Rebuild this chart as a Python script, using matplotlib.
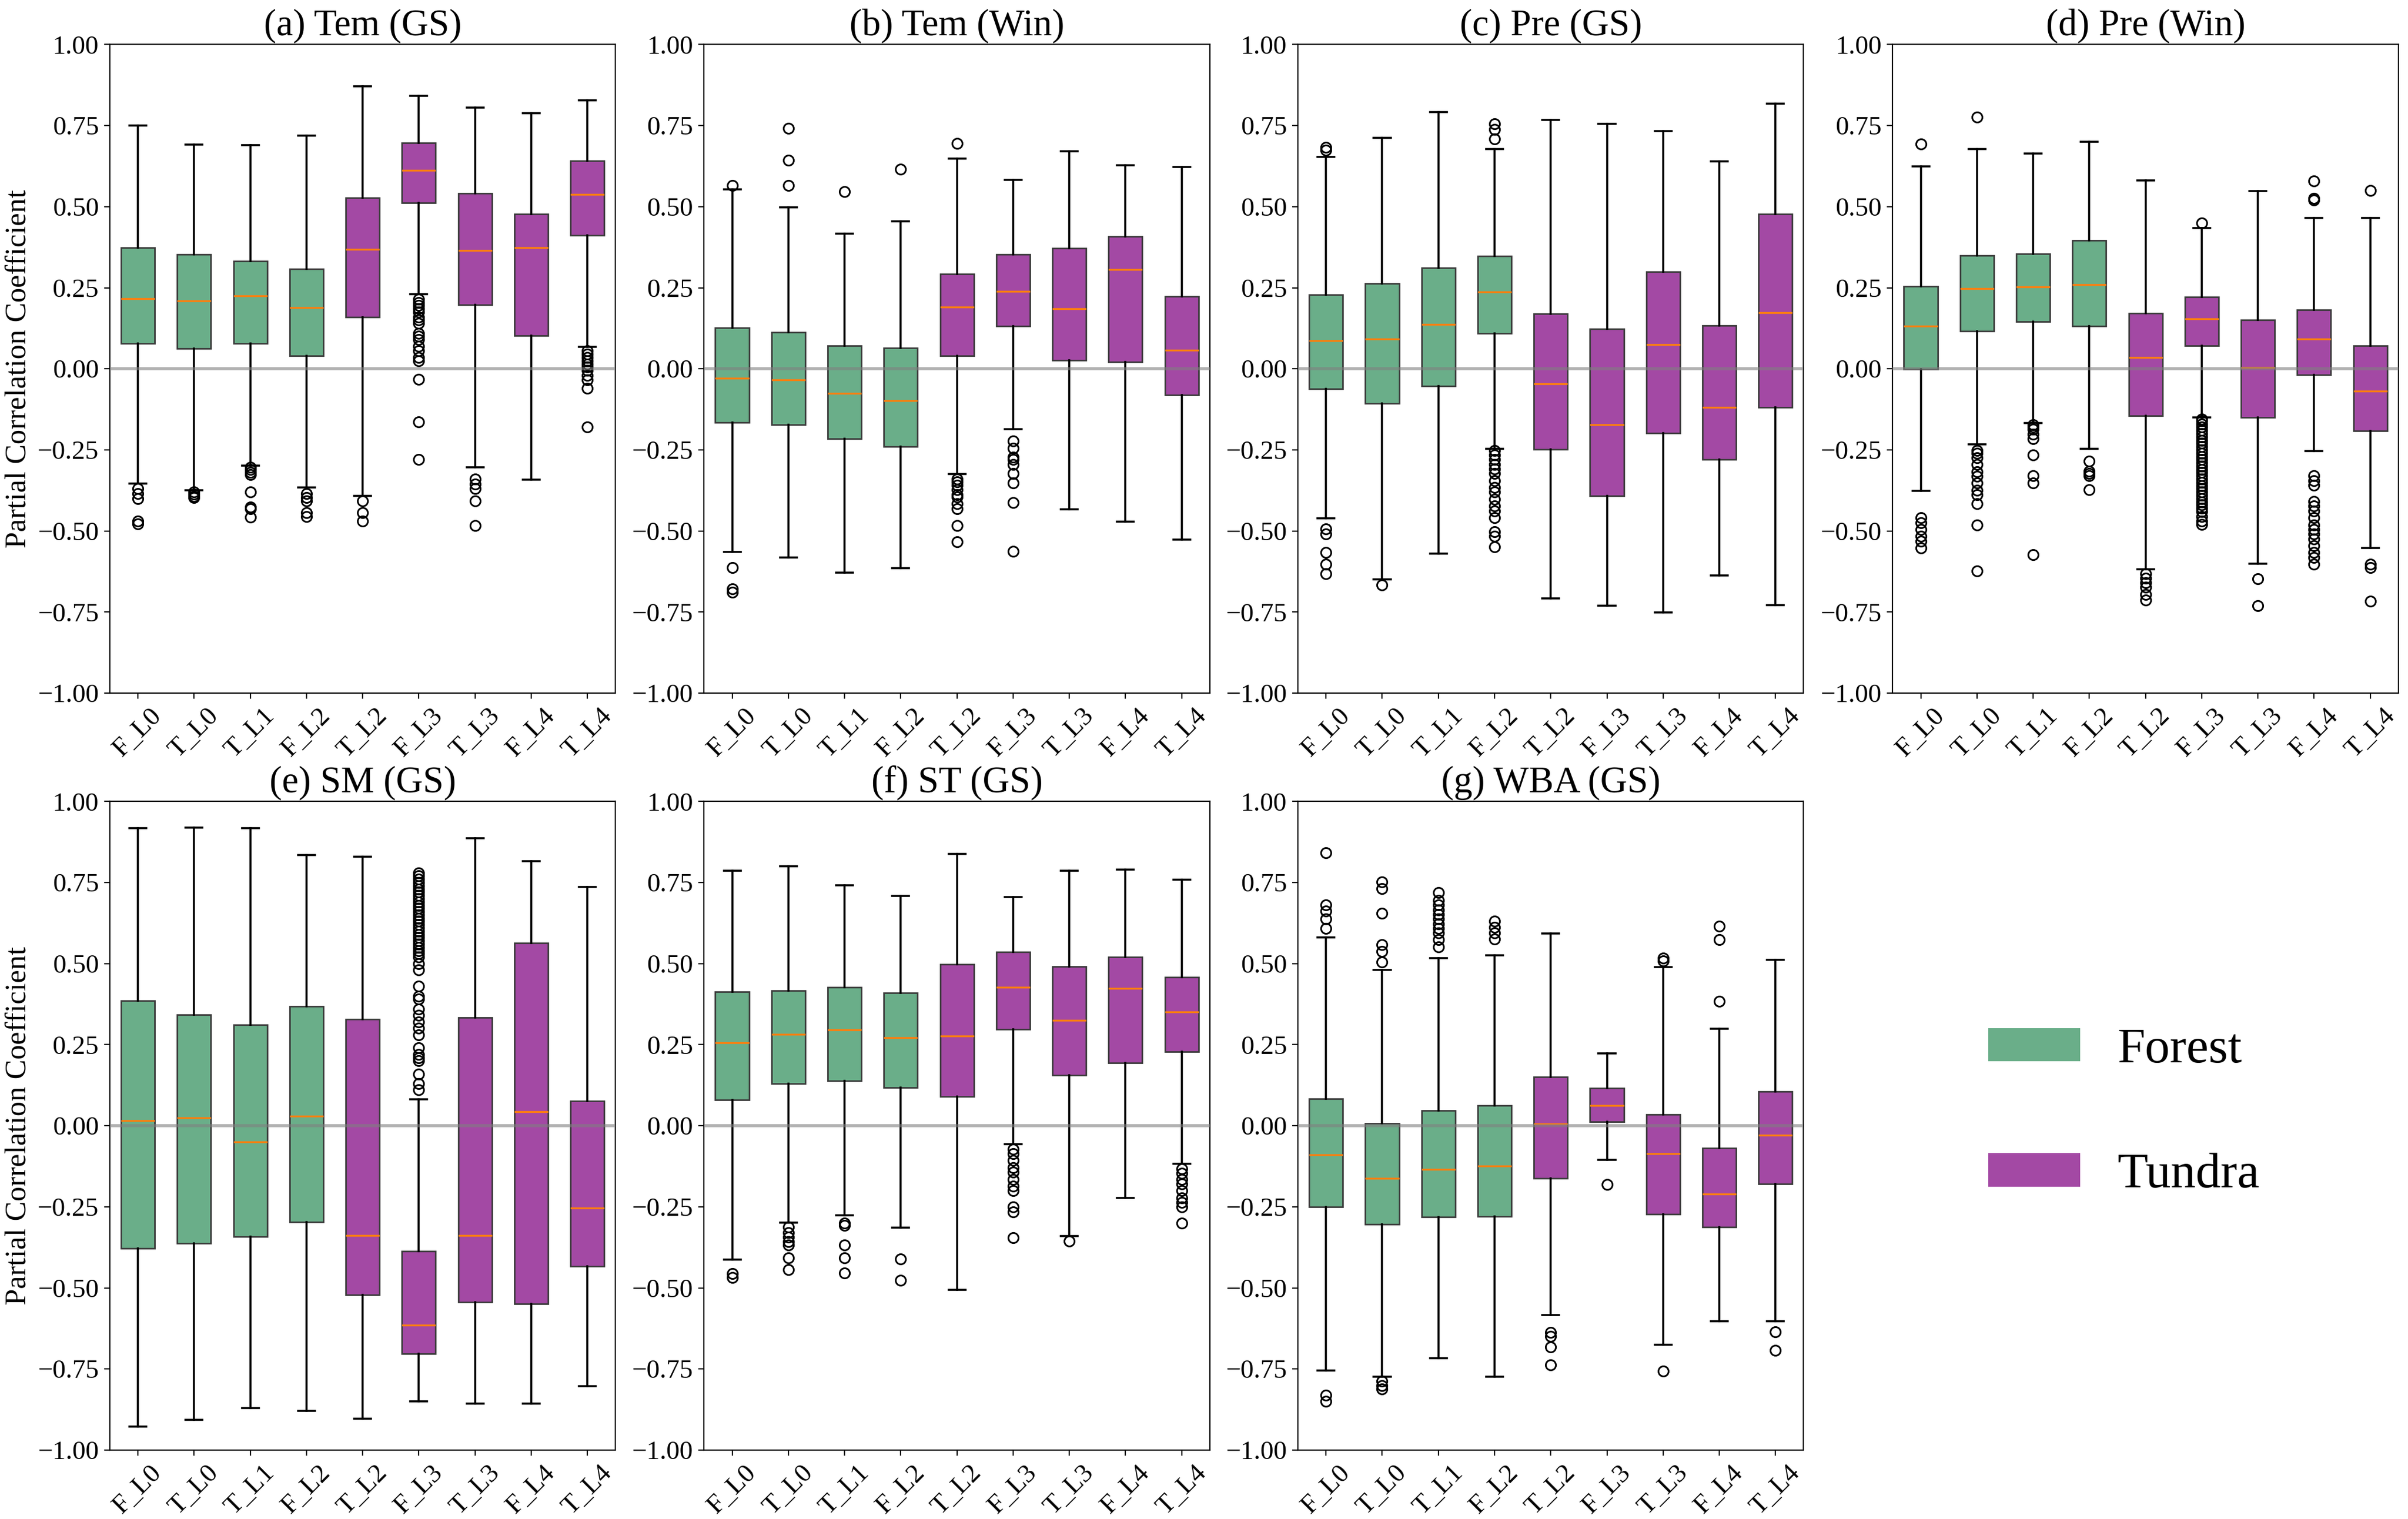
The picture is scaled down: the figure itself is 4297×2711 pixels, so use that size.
import numpy as np
import matplotlib
matplotlib.use("Agg")
import matplotlib.pyplot as plt
from matplotlib.patches import Patch

plt.rcParams['font.family'] = ['Liberation Serif', 'DejaVu Serif']

LABELS = ['F_L0', 'T_L0', 'T_L1', 'F_L2', 'T_L2', 'F_L3', 'T_L3', 'F_L4', 'T_L4']
GREEN = '#6aae89'
PURPLE = '#a349a4'
N_FOREST = 4  # first four boxes are green

# each row: [whislo, q1, med, q3, whishi]
tem_gs_box = [
    [-0.353, 0.078, 0.216, 0.374, 0.750],
    [-0.374, 0.062, 0.209, 0.352, 0.692],
    [-0.298, 0.078, 0.225, 0.332, 0.689],
    [-0.366, 0.040, 0.188, 0.308, 0.719],
    [-0.392, 0.160, 0.368, 0.528, 0.871],
    [0.231, 0.512, 0.612, 0.697, 0.842],
    [-0.303, 0.198, 0.365, 0.541, 0.805],
    [-0.342, 0.103, 0.374, 0.478, 0.788],
    [0.067, 0.411, 0.537, 0.641, 0.828],
]
tem_gs_fliers = [
    [-0.37, -0.385, -0.40, -0.47, -0.478],
    [-0.38, -0.387, -0.393, -0.397],
    [-0.304, -0.311, -0.319, -0.326, -0.379, -0.426, -0.432, -0.458],
    [-0.385, -0.397, -0.407, -0.443, -0.455],
    [-0.408, -0.443, -0.469],
    [0.215, 0.205, 0.195, 0.185, 0.175, 0.16, 0.15, 0.14, 0.11, 0.10, 0.09,
     0.07, 0.055, 0.035, 0.025, -0.033, -0.163, -0.279],
    [-0.34, -0.355, -0.37, -0.407, -0.483],
    [],
    [0.055, 0.045, 0.035, 0.025, 0.015, 0.005, -0.005, -0.02, -0.035, -0.06, -0.18],
]

tem_win_box = [
    [-0.564, -0.166, -0.029, 0.126, 0.553],
    [-0.581, -0.172, -0.034, 0.113, 0.498],
    [-0.629, -0.216, -0.075, 0.071, 0.417],
    [-0.614, -0.239, -0.098, 0.065, 0.455],
    [-0.325, 0.041, 0.191, 0.293, 0.649],
    [-0.187, 0.131, 0.239, 0.352, 0.583],
    [-0.434, 0.027, 0.186, 0.372, 0.670],
    [-0.472, 0.021, 0.307, 0.409, 0.627],
    [-0.527, -0.080, 0.058, 0.224, 0.623],
]
tem_win_fliers = [
    [0.565, -0.613, -0.679, -0.689],
    [0.741, 0.643, 0.566],
    [0.547],
    [0.616],
    [0.695, -0.34, -0.348, -0.359, -0.373, -0.388, -0.395, -0.416, -0.431, -0.484, -0.533],
    [-0.223, -0.245, -0.273, -0.28, -0.295, -0.323, -0.352, -0.412, -0.563],
    [],
    [],
    [],
]

pre_gs_box = [
    [-0.461, -0.061, 0.087, 0.229, 0.654],
    [-0.650, -0.106, 0.092, 0.263, 0.712],
    [-0.570, -0.054, 0.137, 0.312, 0.792],
    [-0.246, 0.110, 0.237, 0.347, 0.678],
    [-0.708, -0.249, -0.046, 0.170, 0.768],
    [-0.730, -0.392, -0.172, 0.123, 0.755],
    [-0.752, -0.199, 0.075, 0.299, 0.733],
    [-0.637, -0.280, -0.118, 0.133, 0.640],
    [-0.729, -0.118, 0.173, 0.478, 0.818],
]
pre_gs_fliers = [
    [0.683, 0.674, -0.493, -0.510, -0.567, -0.603, -0.632],
    [-0.667],
    [],
    [0.755, 0.738, 0.709, -0.252, -0.266, -0.280, -0.295, -0.309, -0.323, -0.345,
     -0.366, -0.380, -0.402, -0.423, -0.438, -0.459, -0.502, -0.516, -0.549],
    [],
    [],
    [],
    [],
    [],
]

pre_win_box = [
    [-0.376, -0.001, 0.131, 0.254, 0.624],
    [-0.233, 0.117, 0.247, 0.350, 0.677],
    [-0.168, 0.146, 0.253, 0.355, 0.663],
    [-0.246, 0.131, 0.259, 0.396, 0.700],
    [-0.618, -0.145, 0.035, 0.172, 0.581],
    [-0.150, 0.072, 0.154, 0.222, 0.434],
    [-0.601, -0.150, 0.004, 0.150, 0.548],
    [-0.254, -0.019, 0.092, 0.181, 0.465],
    [-0.553, -0.191, -0.069, 0.071, 0.465],
]
pre_win_fliers = [
    [0.693, -0.459, -0.474, -0.495, -0.517, -0.531, -0.553],
    [0.776, -0.252, -0.26, -0.274, -0.295, -0.317, -0.331, -0.352, -0.374,
     -0.388, -0.416, -0.481, -0.624],
    [-0.172, -0.18, -0.187, -0.201, -0.215, -0.265, -0.330, -0.352, -0.574],
    [-0.285, -0.316, -0.323, -0.330, -0.373],
    [-0.632, -0.646, -0.66, -0.674, -0.696, -0.713],
    [0.449, -0.155, -0.16, -0.17, -0.18, -0.19, -0.20, -0.21, -0.22, -0.23, -0.24,
     -0.25, -0.26, -0.27, -0.28, -0.29, -0.30, -0.31, -0.32, -0.33, -0.34, -0.35,
     -0.36, -0.37, -0.38, -0.39, -0.40, -0.41, -0.42, -0.43, -0.44, -0.455, -0.47, -0.48],
    [-0.647, -0.730],
    [0.580, 0.525, 0.520, -0.33, -0.345, -0.359, -0.409, -0.423, -0.438, -0.459,
     -0.481, -0.495, -0.509, -0.524, -0.545, -0.566, -0.581, -0.602],
    [0.55, -0.603, -0.613, -0.717],
]

sm_gs_box = [
    [-0.927, -0.378, 0.016, 0.386, 0.918],
    [-0.907, -0.363, 0.025, 0.342, 0.920],
    [-0.870, -0.342, -0.050, 0.311, 0.918],
    [-0.880, -0.297, 0.029, 0.368, 0.834],
    [-0.903, -0.522, -0.339, 0.328, 0.829],
    [-0.850, -0.703, -0.615, -0.387, 0.082],
    [-0.856, -0.544, -0.338, 0.334, 0.886],
    [-0.856, -0.549, 0.043, 0.564, 0.816],
    [-0.803, -0.434, -0.253, 0.076, 0.736],
]
sm_gs_fliers = [
    [], [], [], [], [],
    [0.11, 0.13, 0.16, 0.20, 0.21, 0.22, 0.24, 0.28, 0.30, 0.32, 0.34, 0.36, 0.39,
     0.40, 0.43, 0.48, 0.50, 0.52, 0.53, 0.54, 0.55, 0.56, 0.57, 0.58, 0.59, 0.60,
     0.61, 0.62, 0.63, 0.64, 0.65, 0.66, 0.67, 0.68, 0.69, 0.70, 0.71, 0.72, 0.73,
     0.74, 0.75, 0.76, 0.77, 0.78],
    [], [], [],
]

st_gs_box = [
    [-0.413, 0.079, 0.256, 0.413, 0.787],
    [-0.298, 0.129, 0.282, 0.417, 0.801],
    [-0.277, 0.138, 0.295, 0.427, 0.742],
    [-0.314, 0.117, 0.272, 0.410, 0.708],
    [-0.506, 0.090, 0.277, 0.497, 0.838],
    [-0.057, 0.298, 0.427, 0.536, 0.705],
    [-0.341, 0.156, 0.325, 0.491, 0.787],
    [-0.222, 0.193, 0.424, 0.520, 0.789],
    [-0.117, 0.228, 0.351, 0.458, 0.759],
]
st_gs_fliers = [
    [-0.456, -0.468],
    [-0.312, -0.330, -0.344, -0.358, -0.368, -0.408, -0.444],
    [-0.301, -0.308, -0.368, -0.408, -0.454],
    [-0.411, -0.476],
    [],
    [-0.072, -0.086, -0.107, -0.129, -0.143, -0.165, -0.186, -0.201, -0.251, -0.265, -0.345],
    [-0.355],
    [],
    [-0.133, -0.147, -0.165, -0.179, -0.201, -0.222, -0.236, -0.251, -0.301],
]

wba_gs_box = [
    [-0.755, -0.251, -0.089, 0.083, 0.580],
    [-0.774, -0.304, -0.162, 0.007, 0.480],
    [-0.716, -0.282, -0.135, 0.046, 0.517],
    [-0.774, -0.279, -0.125, 0.062, 0.526],
    [-0.583, -0.163, 0.006, 0.150, 0.592],
    [-0.105, 0.013, 0.063, 0.116, 0.223],
    [-0.676, -0.272, -0.086, 0.034, 0.489],
    [-0.602, -0.312, -0.211, -0.069, 0.299],
    [-0.602, -0.179, -0.030, 0.106, 0.511],
]
wba_gs_fliers = [
    [0.841, 0.681, 0.662, 0.638, 0.609, -0.831, -0.850],
    [0.752, 0.731, 0.655, 0.559, 0.537, 0.504, -0.788, -0.802, -0.812],
    [0.719, 0.695, 0.681, 0.666, 0.652, 0.638, 0.623, 0.609, 0.595, 0.573, 0.552],
    [0.630, 0.612, 0.595, 0.576],
    [-0.638, -0.649, -0.683, -0.738],
    [-0.182],
    [0.516, 0.509, -0.756],
    [0.616, 0.573, 0.383],
    [-0.635, -0.692],
]

panels = [
    ('(a) Tem (GS)', tem_gs_box, tem_gs_fliers),
    ('(b) Tem (Win)', tem_win_box, tem_win_fliers),
    ('(c) Pre (GS)', pre_gs_box, pre_gs_fliers),
    ('(d) Pre (Win)', pre_win_box, pre_win_fliers),
    ('(e) SM (GS)', sm_gs_box, sm_gs_fliers),
    ('(f) ST (GS)', st_gs_box, st_gs_fliers),
    ('(g) WBA (GS)', wba_gs_box, wba_gs_fliers),
]

fig = plt.figure(figsize=(21.485, 13.555), dpi=200)

col_left = [0.0456, 0.2924, 0.539, 0.786]
row_bottom = [0.5437, 0.0454]
ax_w, ax_h = 0.21, 0.427

for i, (title, box, fliers) in enumerate(panels):
    r, c = divmod(i, 4)
    ax = fig.add_axes([col_left[c], row_bottom[r], ax_w, ax_h])
    stats = []
    for lab, s, f in zip(LABELS, box, fliers):
        stats.append(dict(label=lab, whislo=s[0], q1=s[1], med=s[2], q3=s[3],
                          whishi=s[4], fliers=f))
    bp = ax.bxp(stats, patch_artist=True, widths=0.6,
                boxprops=dict(edgecolor='#3a3a3a', linewidth=1.0),
                medianprops=dict(color='#ff7f0e', linewidth=1.2),
                whiskerprops=dict(color='black', linewidth=1.3),
                capprops=dict(color='black', linewidth=1.3),
                flierprops=dict(marker='o', markerfacecolor='none',
                                markeredgecolor='black', markersize=6.5,
                                markeredgewidth=1.1))
    for j, patch in enumerate(bp['boxes']):
        patch.set_facecolor(GREEN if j < N_FOREST else PURPLE)
    ax.axhline(0, color='gray', alpha=0.6, linewidth=2, zorder=5)
    ax.set_ylim(-1, 1)
    ax.set_yticks(np.arange(-1, 1.01, 0.25))
    ax.set_yticklabels([f'{v:.2f}'.replace('-', '\u2212') for v in np.arange(-1, 1.01, 0.25)])
    ax.tick_params(axis='y', labelsize=17)
    ax.tick_params(axis='x', labelsize=17, labelrotation=45)
    ax.set_title(title, fontsize=24, pad=6)
    if c == 0:
        ax.set_ylabel('Partial Correlation Coefficient', fontsize=19)

handles = [Patch(facecolor=GREEN, edgecolor='none', label='Forest'),
           Patch(facecolor=PURPLE, edgecolor='none', label='Tundra')]
fig.legend(handles=handles, loc='center left', bbox_to_anchor=(0.8257, 0.2674),
           frameon=False, fontsize=32, handlelength=1.84, handleheight=0.65,
           handletextpad=0.75, labelspacing=1.6, borderpad=0, borderaxespad=0)

fig.savefig('out.png', dpi=200)
